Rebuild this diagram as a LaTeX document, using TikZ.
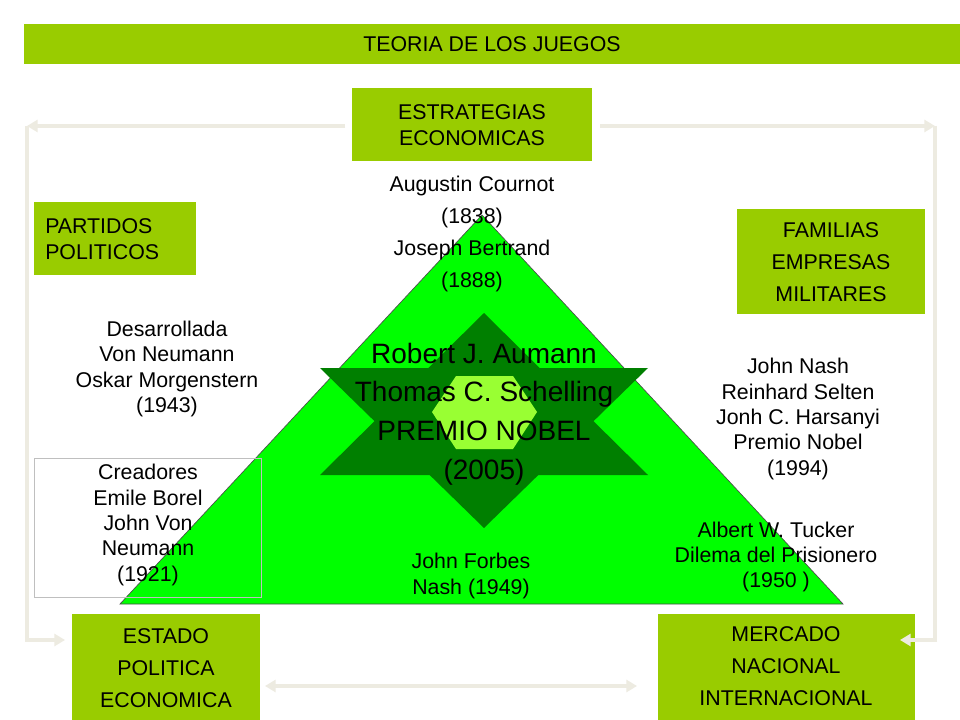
\documentclass[tikz,border=0pt]{standalone}
\usepackage{fontspec}
\setmainfont{Liberation Sans}
\usetikzlibrary{arrows.meta}
\begin{document}
\begin{tikzpicture}[x=0.75pt,y=-0.75pt,
  gbox/.style={fill=olive1,draw=none},
  gtxt/.style={align=center,font=\fontsize{16}{19.5}\selectfont,inner sep=0pt},
  txt/.style={align=center,font=\fontsize{16}{19}\selectfont,inner sep=0pt},
  arr/.style={draw=arrgray,line width=3pt,-{Triangle[length=8pt,width=9pt]}},
  ]
\definecolor{olive1}{HTML}{99CC00}
\definecolor{arrgray}{HTML}{EDEBE1}
\definecolor{dgreen}{HTML}{007F00}
\definecolor{lgreen}{HTML}{99FF33}
\useasboundingbox (0,0) rectangle (960,720);
\fill[white] (0,0) rectangle (960,720);
% title
\fill[gbox] (24,24) rectangle (960,64);
\node[gtxt] (title) at (492,44) {TEORIA DE LOS JUEGOS};
% boxes
\fill[gbox] (352,88) rectangle (592,161);
\node[gtxt] (estr) at (472,125) {ESTRATEGIAS\\ECONOMICAS};
\coordinate (estrW) at (345,126); \coordinate (estrE) at (600,126);
\fill[gbox] (34,202) rectangle (196,275);
\node[gtxt,align=left,anchor=west] (part) at (45,239) {PARTIDOS\\POLITICOS};
\fill[gbox] (737,209) rectangle (925,314);
\node[gtxt,font=\fontsize{16}{24}\selectfont] (fam) at (831,262) {FAMILIAS\\EMPRESAS\\MILITARES};
\fill[gbox] (72,614) rectangle (260,720);
\node[gtxt,font=\fontsize{16}{24}\selectfont] (estado) at (166,668) {ESTADO\\POLITICA\\ECONOMICA};
\fill[gbox] (658,614) rectangle (915,720);
\node[gtxt,font=\fontsize{16}{24}\selectfont] (merc) at (786,666) {MERCADO\\NACIONAL\\INTERNACIONAL};
% arrows
\coordinate (tl) at (27,126); \coordinate (tr) at (935,126);
\coordinate (bl) at (27,640); \coordinate (br) at (935,640);
\draw[arr] (estrW) -- (tl);
\draw[arr] (estrE) -- (tr);
\draw[draw=arrgray,line width=3pt] (tl) -- (bl);
\draw[draw=arrgray,line width=3pt] (tr) -- (br);
\coordinate (bla) at (65,640); \coordinate (bra) at (900,640);
\draw[arr] ([xshift=-1.5pt]bl) -- (bla);
\draw[arr] ([xshift=1.5pt]br) -- (bra);
\coordinate (m1) at (265,686); \coordinate (m2) at (637,686);
\draw[arr,{Triangle[length=8pt,width=9pt]}-{Triangle[length=8pt,width=9pt]}] (m1) -- (m2);
% triangle
\fill[green,draw=black!70,line width=0.5pt] (482,215) -- (843,604) -- (120,604) -- cycle;
% star
\fill[dgreen] (484,313) -- (648,475) -- (320,475) -- cycle;
\fill[dgreen] (484,528) -- (648,368) -- (320,368) -- cycle;
\fill[lgreen] (456,376) -- (513,376) -- (537,412) -- (513,449) -- (456,449) -- (432,412) -- cycle;
% creadores frame
\draw[black!25,line width=0.4pt] (34,458) rectangle (261,597);
\node[txt] (cre) at (148,525) {Creadores\\Emile Borel\\John Von\\Neumann\\(1921)};
% texts
\node[txt,font=\fontsize{16}{24}\selectfont] (cour) at (472,234) {Augustin Cournot\\(1838)\\Joseph Bertrand\\(1888)};
\node[txt] (des) at (167,369) {Desarrollada\\Von Neumann\\Oskar Morgenstern\\(1943)};
\node[txt,font=\fontsize{21}{29}\selectfont] (cen) at (484,414) {Robert J. Aumann\\Thomas C. Schelling\\PREMIO NOBEL\\(2005)};
\node[txt] (nash) at (798,419) {John Nash\\Reinhard Selten\\Jonh C. Harsanyi\\Premio Nobel\\(1994)};
\node[txt] (tuck) at (776,557) {Albert W. Tucker\\Dilema del Prisionero\\(1950 )};
\node[txt] (forb) at (471,576) {John Forbes\\Nash (1949)};
\end{tikzpicture}
\end{document}
